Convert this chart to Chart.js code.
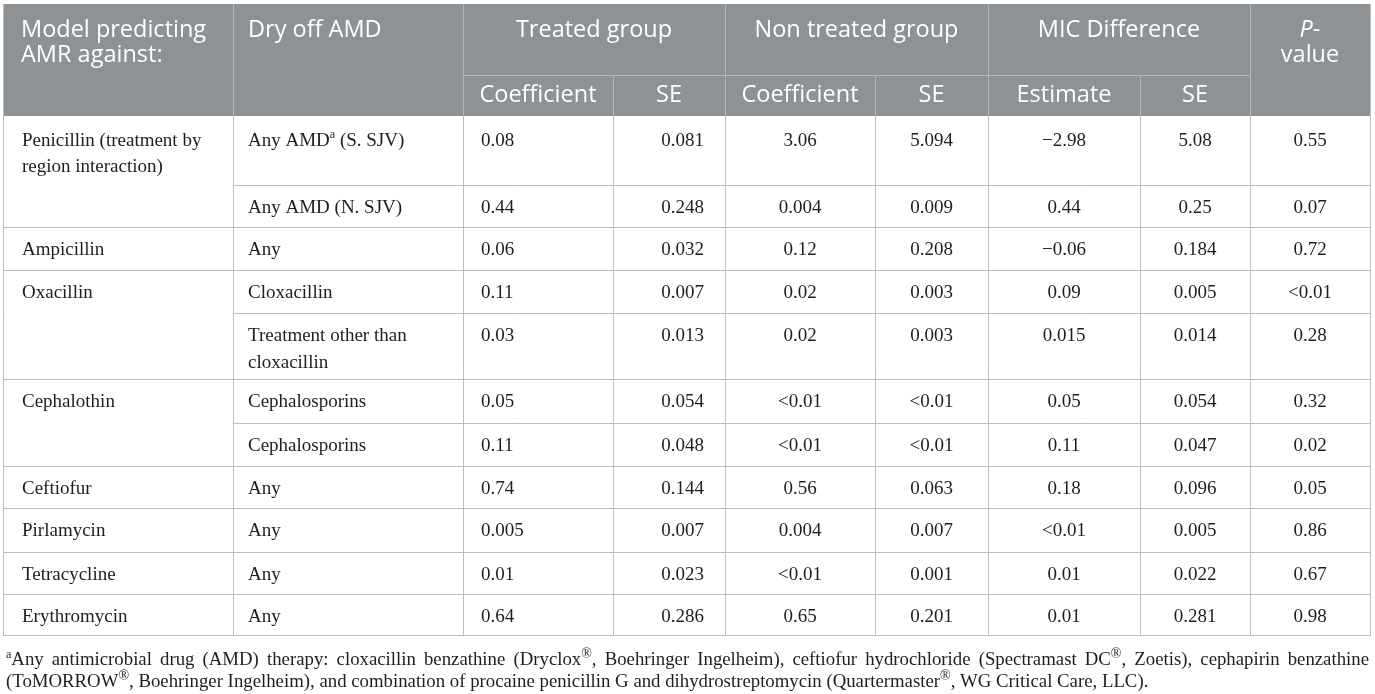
<!DOCTYPE html>
<html>
<head>
<meta charset="utf-8">
<script src="https://cdn.jsdelivr.net/npm/chart.js@4.4.0/dist/chart.umd.min.js"></script>
<style>
  html, body { margin: 0; padding: 0; background: #fff; }
  #table { display: block; }
</style>
</head>
<body>
<canvas id="table" width="1375" height="694"></canvas>
<script>
// table contents, one entry per body row (null = merged with row above)
var models = [
    ['Penicillin (treatment by', 'region interaction)'], null,
    ['Ampicillin'],
    ['Oxacillin'], null,
    ['Cephalothin'], null,
    ['Ceftiofur'],
    ['Pirlamycin'],
    ['Tetracycline'],
    ['Erythromycin']
];
var dryOff = [
    ['Any AMD^a (S. SJV)'], ['Any AMD (N. SJV)'], ['Any'], ['Cloxacillin'],
    ['Treatment other than', 'cloxacillin'], ['Cephalosporins'], ['Cephalosporins'],
    ['Any'], ['Any'], ['Any'], ['Any']
];
var treatedCoef = ['0.08', '0.44', '0.06', '0.11', '0.03', '0.05', '0.11', '0.74', '0.005', '0.01', '0.64'];
var treatedSE   = ['0.081', '0.248', '0.032', '0.007', '0.013', '0.054', '0.048', '0.144', '0.007', '0.023', '0.286'];
var nonCoef     = ['3.06', '0.004', '0.12', '0.02', '0.02', '<0.01', '<0.01', '0.56', '0.004', '<0.01', '0.65'];
var nonSE       = ['5.094', '0.009', '0.208', '0.003', '0.003', '<0.01', '<0.01', '0.063', '0.007', '0.001', '0.201'];
var micEstimate = ['\u22122.98', '0.44', '\u22120.06', '0.09', '0.015', '0.05', '0.11', '0.18', '<0.01', '0.01', '0.01'];
var micSE       = ['5.08', '0.25', '0.184', '0.005', '0.014', '0.054', '0.047', '0.096', '0.005', '0.022', '0.281'];
var pValues     = ['0.55', '0.07', '0.72', '<0.01', '0.28', '0.32', '0.02', '0.05', '0.86', '0.67', '0.98'];

var groupHeaders = ['Treated group', 'Non treated group', 'MIC Difference'];
var subHeaders = ['Coefficient', 'SE', 'Coefficient', 'SE', 'Estimate', 'SE'];
var footnote = [
    '^aAny antimicrobial drug (AMD) therapy: cloxacillin benzathine (Dryclox\u00ae, Boehringer Ingelheim), ceftiofur hydrochloride (Spectramast DC\u00ae, Zoetis), cephapirin benzathine',
    '(ToMORROW\u00ae, Boehringer Ingelheim), and combination of procaine penicillin G and dihydrostreptomycin (Quartermaster\u00ae, WG Critical Care, LLC).'
];

// layout (in scale units = canvas px)
var colEdges = [3, 233, 463, 613, 725, 875, 988, 1140, 1250, 1370];
var headTop = 4, headMid = 75, headBottom = 116;
var rowEdges = [116, 185, 227, 270, 313, 379, 423, 466, 508, 552, 594, 635];
var headFill = '#8e9294';
var headLine = '#b4b7b9';
var gridLine = '#bdbdbd';
var sans = '"Open Sans", "Noto Sans", sans-serif';
var serif = '"Liberation Serif", "DejaVu Serif", serif';

function splitRuns(str) {
    var parts = str.split(/(\^\w|\u00ae)/);
    var out = [];
    parts.forEach(function (p) {
        if (!p) return;
        if (p[0] === '^') out.push({ t: p.slice(1), sup: true });
        else if (p === '\u00ae') out.push({ t: p, sup: true, big: true });
        else out.push({ t: p, sup: false });
    });
    return out;
}

function supSize(r, size) {
    return Math.round(size * (r.big ? 0.75 : 0.62));
}

function runsWidth(ctx, runs, size, family) {
    var w = 0;
    runs.forEach(function (r) {
        ctx.font = (r.sup ? supSize(r, size) : size) + 'px ' + family;
        w += ctx.measureText(r.t).width;
    });
    return w;
}

function drawRuns(ctx, str, x, y, align, size, family, color) {
    var runs = splitRuns(str);
    var w = runsWidth(ctx, runs, size, family);
    var cx = align === 'left' ? x : align === 'right' ? x - w : x - w / 2;
    ctx.fillStyle = color;
    ctx.textBaseline = 'middle';
    ctx.textAlign = 'left';
    runs.forEach(function (r) {
        ctx.font = (r.sup ? supSize(r, size) : size) + 'px ' + family;
        ctx.fillText(r.t, cx, r.sup ? y - size * 0.3 : y);
        cx += ctx.measureText(r.t).width;
    });
}

var tablePlugin = {
    id: 'table',
    afterDraw: function (chart) {
        var ctx = chart.ctx;
        var xs = chart.scales.x, ys = chart.scales.y;
        var X = function (v) { return xs.getPixelForValue(v); };
        var Y = function (v) { return ys.getPixelForValue(v); };
        var last = rowEdges[rowEdges.length - 1];
        ctx.save();

        // header block
        ctx.fillStyle = headFill;
        ctx.fillRect(X(colEdges[0]), Y(headTop), X(colEdges[9]) - X(colEdges[0]), Y(headBottom) - Y(headTop));
        ctx.lineWidth = 1;
        ctx.strokeStyle = headLine;
        ctx.beginPath();
        [1, 2, 4, 6, 8].forEach(function (i) {
            ctx.moveTo(X(colEdges[i]) + 0.5, Y(headTop));
            ctx.lineTo(X(colEdges[i]) + 0.5, Y(headBottom));
        });
        [3, 5, 7].forEach(function (i) {
            ctx.moveTo(X(colEdges[i]) + 0.5, Y(headMid));
            ctx.lineTo(X(colEdges[i]) + 0.5, Y(headBottom));
        });
        ctx.moveTo(X(colEdges[2]), Y(headMid) + 0.5);
        ctx.lineTo(X(colEdges[8]), Y(headMid) + 0.5);
        ctx.stroke();

        // header text
        var hs = 23.5, white = '#ffffff';
        drawRuns(ctx, 'Model predicting', X(21), Y(30), 'left', hs, sans, white);
        drawRuns(ctx, 'AMR against:', X(21), Y(55), 'left', hs, sans, white);
        drawRuns(ctx, 'Dry off AMD', X(248), Y(30), 'left', hs, sans, white);
        groupHeaders.forEach(function (h, i) {
            var c = (colEdges[2 + 2 * i] + colEdges[4 + 2 * i]) / 2;
            drawRuns(ctx, h, X(c), Y(30), 'center', hs, sans, white);
        });
        subHeaders.forEach(function (h, i) {
            var c = (colEdges[2 + i] + colEdges[3 + i]) / 2;
            drawRuns(ctx, h, X(c), Y(95), 'center', hs, sans, white);
        });
        var pc = (colEdges[8] + colEdges[9]) / 2;
        ctx.font = 'italic ' + hs + 'px ' + sans;
        var pw = ctx.measureText('P').width;
        ctx.font = hs + 'px ' + sans;
        var dw = ctx.measureText('-').width;
        ctx.fillStyle = white;
        ctx.textBaseline = 'middle';
        ctx.textAlign = 'left';
        ctx.font = 'italic ' + hs + 'px ' + sans;
        ctx.fillText('P', X(pc) - (pw + dw) / 2, Y(30));
        ctx.font = hs + 'px ' + sans;
        ctx.fillText('-', X(pc) - (pw + dw) / 2 + pw, Y(30));
        drawRuns(ctx, 'value', X(pc), Y(55), 'center', hs, sans, white);

        // body grid
        ctx.strokeStyle = gridLine;
        ctx.beginPath();
        colEdges.forEach(function (c, i) {
            ctx.moveTo(X(c) + 0.5, Y(i === 0 || i === 9 ? headTop : headBottom));
            ctx.lineTo(X(c) + 0.5, Y(last));
        });
        rowEdges.forEach(function (r, k) {
            if (k === 0) return;
            var startCol = (k < models.length && models[k] === null) ? 1 : 0;
            ctx.moveTo(X(colEdges[startCol]), Y(r) + 0.5);
            ctx.lineTo(X(colEdges[9]) + 1, Y(r) + 0.5);
        });
        ctx.stroke();

        // body text
        var bs = 19, ink = '#1e1e1e';
        var centerCols = [nonCoef, nonSE, micEstimate, micSE, pValues];
        for (var k = 0; k < dryOff.length; k++) {
            var ty = rowEdges[k] + (k === 0 ? 25 : 23.5);
            if (models[k]) {
                models[k].forEach(function (line, j) {
                    drawRuns(ctx, line, X(22), Y(ty + j * 26.5), 'left', bs, serif, ink);
                });
            }
            dryOff[k].forEach(function (line, j) {
                drawRuns(ctx, line, X(248), Y(ty + j * 26.5), 'left', bs, serif, ink);
            });
            drawRuns(ctx, treatedCoef[k], X(481), Y(ty), 'left', bs, serif, ink);
            drawRuns(ctx, treatedSE[k], X(colEdges[4] - 21), Y(ty), 'right', bs, serif, ink);
            centerCols.forEach(function (col, c) {
                var cx = (colEdges[4 + c] + colEdges[5 + c]) / 2;
                drawRuns(ctx, col[k], X(cx), Y(ty), 'center', bs, serif, ink);
            });
        }

        // footnote: first line justified, second left
        var fs = 18.8, fx0 = 6, fx1 = 1369;
        var words = footnote[0].split(' ');
        var ww = words.map(function (w) { return runsWidth(ctx, splitRuns(w), fs, serif); });
        var total = ww.reduce(function (a, b) { return a + b; }, 0);
        var gap = (X(fx1) - X(fx0) - total) / (words.length - 1);
        var cx = X(fx0);
        words.forEach(function (w, i) {
            drawRuns(ctx, w, cx, Y(660), 'left', fs, serif, ink);
            cx += ww[i] + gap;
        });
        drawRuns(ctx, footnote[1], X(fx0), Y(682), 'left', fs, serif, ink);
        ctx.restore();
    }
};

var ctx = document.getElementById('table').getContext('2d');
var myChart = new Chart(ctx, {
    type: 'scatter',
    data: { datasets: [] },
    options: {
        responsive: false,
        animation: false,
        layout: { padding: 0 },
        plugins: { legend: { display: false }, tooltip: { enabled: false } },
        scales: {
            x: { type: 'linear', min: 0, max: 1375, display: false },
            y: { type: 'linear', min: 0, max: 694, reverse: true, display: false }
        }
    },
    plugins: [tablePlugin]
});
</script>
</body>
</html>
